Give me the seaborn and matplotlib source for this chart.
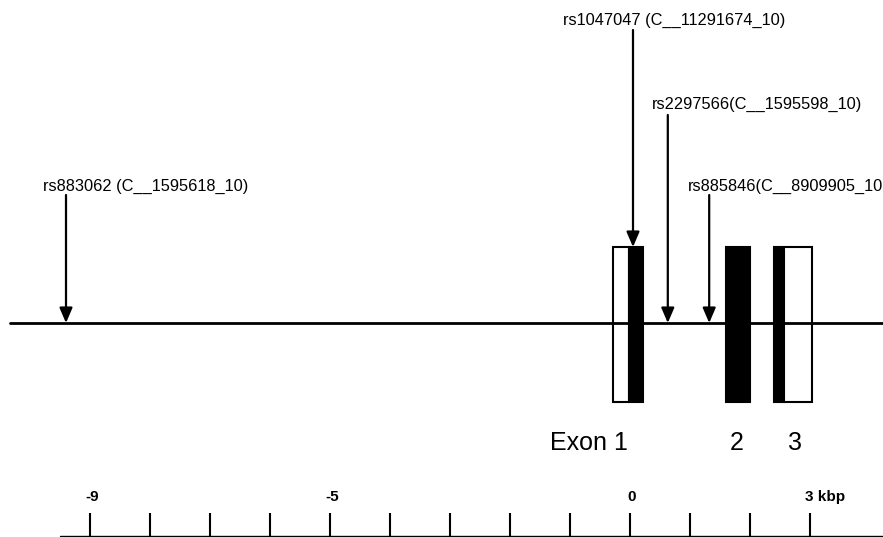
import matplotlib
matplotlib.use("Agg")
import matplotlib.pyplot as plt
import seaborn as sns
import numpy as np

# SNP names and positions (kbp relative to exon 1 start)
snp_labels = ["rs883062 (C__1595618_10)", "rs1047047 (C__11291674_10)",
              "rs2297566(C__1595598_10)", "rs885846(C__8909905_10"]
snp_pos = [-9.4, 0.05, 0.63, 1.32]

# exon blocks (kbp): white = UTR, black = coding
exon_start = [-0.28, -0.02, 1.6, 2.4, 2.57]
exon_end = [-0.02, 0.22, 2.0, 2.57, 3.03]
exon_coding = [False, True, True, True, False]
exon_names = ["Exon 1", "2", "3"]
exon_name_pos = [-0.68, 1.78, 2.75]

# scale bar
scale_ticks = np.arange(-9, 4)
scale_labels = {-9: "-9", -5: "-5", 0: "0", 3: "3 kbp"}

sns.set_style("white")
plt.rcParams["font.family"] = ["Liberation Sans", "DejaVu Sans"]
plt.rcParams["text.color"] = "black"

fig = plt.figure(figsize=(8.83, 5.37), dpi=100)
ax = fig.add_axes([0, 0, 1, 1])
ax.set_xlim((0 - 630) / 60, (883 - 630) / 60)
ax.set_ylim(537, 0)
ax.axis("off")

# exon boxes
for s, e, c in zip(exon_start, exon_end, exon_coding):
    ax.bar(s, 155, width=e - s, bottom=247, align="edge",
           color="black" if c else "white", edgecolor="black", linewidth=1.5, zorder=2)

# backbone
ax.plot([(10 - 630) / 60, 5], [323, 323], color="black", lw=2, zorder=3)

# SNP arrows and labels
arrow_top = [195, 30, 115, 195]
arrow_end = [323, 247, 323, 323]
label_x = [43, 563, 652, 688]
label_y = [186, 20, 104, 186]
for p, lab, t, b, lx, ly in zip(snp_pos, snp_labels, arrow_top, arrow_end, label_x, label_y):
    ax.annotate("", xy=(p, b), xytext=(p, t),
                arrowprops=dict(arrowstyle="-|>,head_length=0.7,head_width=0.3",
                                color="black", lw=1.6, shrinkA=0, shrinkB=0,
                                mutation_scale=13), zorder=4)
    ax.text((lx - 630) / 60, ly, lab, fontsize=11.8, ha="left", va="center",
            color="black")

# exon labels
for name, xp in zip(exon_names, exon_name_pos):
    ax.text(xp, 443, name, fontsize=18, ha="center", va="center", color="black")

# scale bar
ax.vlines(scale_ticks, 513, 537, color="black", lw=1.5)
ax.plot([(60 - 630) / 60, 5], [536, 536], color="black", lw=1)
for t, lab in scale_labels.items():
    if lab.endswith("kbp"):
        ax.text(t - 0.08, 497, lab, fontsize=11, fontweight="bold", ha="left",
                va="center", color="black")
    else:
        ax.text(t + 0.03, 497, lab, fontsize=11, fontweight="bold", ha="center",
                va="center", color="black")

fig.savefig("out.png", dpi=100)
